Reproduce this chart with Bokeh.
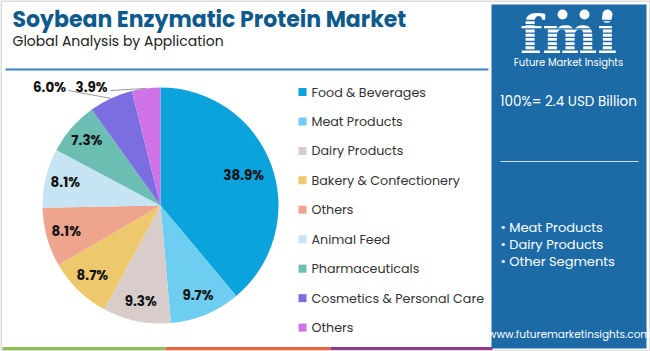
import numpy as np
from bokeh.plotting import figure
from bokeh.models import Range1d
from bokeh.core.properties import value
from bokeh.embed import file_html
from bokeh.resources import INLINE

# ---- data ----
categories = ["Food & Beverages", "Meat Products", "Dairy Products", "Bakery & Confectionery",
              "Others", "Animal Feed", "Pharmaceuticals", "Cosmetics & Personal Care", "Others"]
shares = [38.9, 9.7, 9.3, 8.7, 8.1, 8.1, 7.3, 6.0, 3.9]
colors = ["#0ba3dc", "#6dcef2", "#d8cdca", "#eec86c", "#efa48d", "#c7e4f4", "#6cbdb2", "#7b6ee0", "#cf73e6"]
outside = [False, False, False, False, False, False, False, True, True]
title = "Soybean Enzymatic Protein Market"
subtitle = "Global Analysis by Application"
total_text = "100%= 2.4 USD Billion"
bullets = ["• Meat Products", "• Dairy Products", "• Other Segments"]
url = "www.futuremarketinsights.com"

W, H = 650, 351
FONT = "Poppins, Inter, 'Open Sans', sans-serif"

def Y(y):
    return H - y

p = figure(width=W, height=H, x_range=Range1d(0, W), y_range=Range1d(0, H),
           output_backend="svg", toolbar_location=None, min_border=0)
p.axis.visible = False
p.grid.visible = False
p.outline_line_color = None
p.background_fill_color = "white"
p.border_fill_color = "white"

# outer border
p.quad(left=[0.5], right=[W - 0.5], bottom=[0.5], top=[H - 0.5], fill_color=None,
       line_color="#dddddd", line_width=2)

# header
p.text(x=[12], y=[Y(19)], text=[title], text_font=value(FONT), text_font_style="bold",
       text_font_size="22px", text_color="#0e5a8c", text_baseline="middle")
p.text(x=[12], y=[Y(40)], text=[subtitle], text_font=value(FONT),
       text_font_size="14px", text_color="#222222", text_baseline="middle")
p.segment(x0=[5], y0=[Y(69)], x1=[488], y1=[Y(69)], line_color="#3a84bd", line_width=2)

# bottom color bars
p.segment(x0=[2, 165, 330], y0=[Y(348)] * 3, x1=[165, 330, 492], y1=[Y(348)] * 3,
          line_color=["#8cc152", "#e9663c", "#8e3a8e"], line_width=3)

# pie
cx, cy, r = 160, 205, 118
fr = np.array(shares) / sum(shares)
cum = np.concatenate([[0], np.cumsum(fr)])
starts = np.pi / 2 - 2 * np.pi * cum[1:]
ends = np.pi / 2 - 2 * np.pi * cum[:-1]
p.wedge(x=cx, y=Y(cy), radius=r, start_angle=starts, end_angle=ends,
        fill_color=colors, line_color=None)

mids = (starts + ends) / 2
lx, ly, lt = [], [], []
for i, s in enumerate(shares):
    if outside[i]:
        continue
    rr = r * (0.75 if s > 30 else 0.83)
    lx.append(cx + rr * np.cos(mids[i]))
    ly.append(Y(cy) + rr * np.sin(mids[i]))
    lt.append(f"{s:.1f}%")
p.text(x=lx, y=ly, text=lt, text_font=value(FONT), text_font_style="bold",
       text_font_size="13.5px", text_color="#111111", text_align="center", text_baseline="middle")

# outside labels with leader lines
out_idx = [i for i in range(len(shares)) if outside[i]]
out_pos = [(49, 87), (91, 87)]
for (tx, ty), i in zip(out_pos, out_idx):
    ex = cx + r * np.cos(mids[i])
    ey = Y(cy) + r * np.sin(mids[i])
    p.line(x=[tx + 19, ex], y=[Y(ty + 3), ey], line_color="#999999", line_width=1)
    p.text(x=[tx], y=[Y(ty)], text=[f"{shares[i]:.1f}%"], text_font=value(FONT),
           text_font_style="bold", text_font_size="13.5px", text_color="#111111",
           text_align="center", text_baseline="middle")

# legend
leg_y = [91.5 + 29.45 * k for k in range(len(categories))]
p.rect(x=[302] * len(categories), y=[Y(v) for v in leg_y], width=8, height=8,
       fill_color=colors, line_color=None)
p.text(x=[311] * len(categories), y=[Y(v) for v in leg_y], text=categories,
       text_font=value(FONT), text_font_size="12.7px", text_color="#333333", text_baseline="middle")

# right panel
panel = "#1c6aa6"
p.quad(left=[491], right=[646], bottom=[Y(348)], top=[Y(4)], fill_color=panel, line_color=None)
# logo
p.text(x=[568], y=[Y(34)], text=["fmi"], text_font=value("DejaVu Serif"), text_font_style="bold",
       text_font_size="52px", text_color="white", text_align="center", text_baseline="middle")
sy = np.arange(20, 55, 4.2)
p.segment(x0=[508] * len(sy), y0=[Y(v) for v in sy], x1=[630] * len(sy), y1=[Y(v) for v in sy],
          line_color=panel, line_width=1.3)
p.circle(x=[562, 584, 607], y=[Y(14)] * 3, radius=5, fill_color="white", line_color=None)
p.text(x=[568], y=[Y(62)], text=["Future Market Insights"], text_font=value(FONT),
       text_font_size="10px", text_color="white", text_align="center", text_baseline="middle")

p.text(x=[568], y=[Y(101)], text=[total_text], text_font=value(FONT), text_font_size="13.5px",
       text_color="white", text_align="center", text_baseline="middle")
p.segment(x0=[500], y0=[Y(161)], x1=[638], y1=[Y(161)], line_color="#d0e0ef", line_width=1)
p.text(x=[500] * 3, y=[Y(v) for v in [227, 244, 261]], text=bullets, text_font=value(FONT),
       text_font_size="13px", text_color="white", text_baseline="middle")
p.text(x=[569], y=[Y(334)], text=[url], text_font=value(FONT), text_font_size="10.5px",
       text_color="white", text_align="center", text_baseline="middle")

open("out.html", "w").write(file_html(p, INLINE))
